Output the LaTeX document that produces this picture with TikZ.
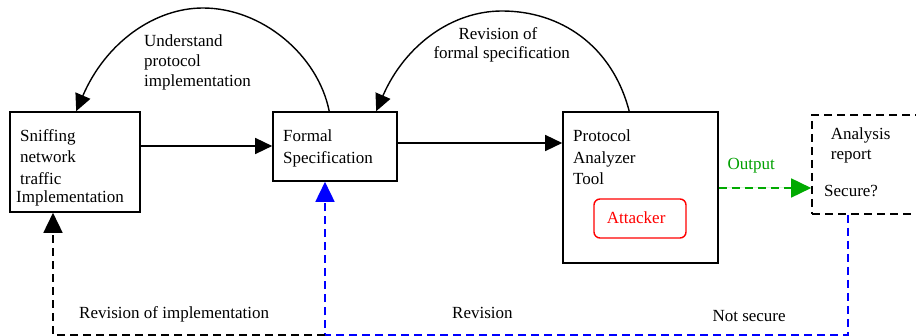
\documentclass[tikz,border=0pt]{standalone}
\usepackage{fontspec}
\setmainfont{Liberation Serif}
\usetikzlibrary{arrows.meta,calc}
\begin{document}
\begin{tikzpicture}[x=1pt,y=-1pt,
  box/.style={draw=black,line width=1.6pt,minimum width=#1,inner sep=0pt},
  txt/.style={anchor=base west,inner sep=0pt,font=\fontsize{17}{20}\selectfont},
  conn/.style={line width=1.4pt},
  headA/.style={-{Triangle[length=17pt,width=16pt]}},
  headB/.style={-{Triangle[length=20pt,width=19pt]}},
  dsh/.style={dash pattern=on 8pt off 5pt,line width=1.6pt}]
\useasboundingbox (0,0) rectangle (916,336);
\clip (0,0) rectangle (916,336);
% boxes
\node[box=130pt,minimum height=100pt] (sniff) at (75,162) {};
\node[box=124pt,minimum height=69pt] (formal) at (335,146.5) {};
\node[box=155pt,minimum height=151pt] (proto) at (640.5,187.5) {};
\node[draw=red,line width=1.4pt,rounded corners=6pt,minimum width=92pt,minimum height=39pt,inner sep=0pt] (attacker) at (640,218.5) {};
\node[draw=black,dsh,minimum width=188pt,minimum height=99pt,inner sep=0pt] (report) at (906,164.5) {};
% box texts
\node[txt] (t1) at (20,142) {Sniffing};
\node[txt] (t2) at (20,163) {network};
\node[txt] (t3) at (20,185) {traffic};
\node[txt] (t4) at (16,203) {Implementation};
\node[txt] (t5) at (283,142) {Formal};
\node[txt] (t6) at (283,163.5) {Specification};
\node[txt] (t7) at (573,141.5) {Protocol};
\node[txt] (t8) at (573,163.5) {Analyzer};
\node[txt] (t9) at (573,184.7) {Tool};
\node[txt,text=red] (t10) at (606.7,224) {Attacker};
\node[txt] (t11) at (830.7,139.6) {Analysis};
\node[txt] (t12) at (830.7,160) {report};
\node[txt] (t13) at (824,196.3) {Secure?};
% labels
\node[txt] (l1) at (144,46.3) {Understand};
\node[txt] (l2) at (144,66.5) {protocol};
\node[txt] (l3) at (144,86.5) {implementation};
\node[txt] (l4) at (458.3,39.6) {Revision of};
\node[txt] (l5) at (433.3,59) {formal specification};
\node[txt,text={rgb,255:red,0;green,160;blue,0}] (l6) at (727.3,169.6) {Output};
\node[txt] (l7) at (712.3,321.3) {Not secure};
\node[txt] (l8) at (79,318.6) {Revision of implementation};
\node[txt] (l9) at (452,318.6) {Revision};
% straight arrows
\draw[conn,headA] (sniff.east |- 0,146) -- (formal.west |- 0,146);
\draw[conn,headA] (formal.east |- 0,143) -- (proto.west |- 0,143);
\draw[dsh,headB,draw={rgb,255:red,0;green,170;blue,0},fill={rgb,255:red,0;green,170;blue,0}] (proto.east |- 0,188) -- (report.west |- 0,188);
% curved arrows
\coordinate (apex1) at (203,8);
\coordinate (apex2) at (502,11);
\draw[conn,headA] ($(formal.north west)+(57,0)$) .. controls (318,55) and (262,8) .. (apex1)
   .. controls (155,8) and (106,42) .. ($(sniff.north west)+(67,0)$);
\draw[conn,headA] ($(proto.north west)+(67,0)$) .. controls (612,45) and (560,11) .. (apex2)
   .. controls (452,11) and (405,45) .. ($(formal.north west)+(104,0)$);
% feedback dashed
\coordinate (ns) at (848,335);
\coordinate (rv) at (325,335);
\coordinate (ri) at (53,335);
\draw[dsh,blue,headB] (report.south -| ns) -- (ns) -- (rv) -- (rv |- formal.south);
\draw[dsh,black,headB] (rv) -- (ri) -- (ri |- sniff.south);
\end{tikzpicture}
\end{document}
